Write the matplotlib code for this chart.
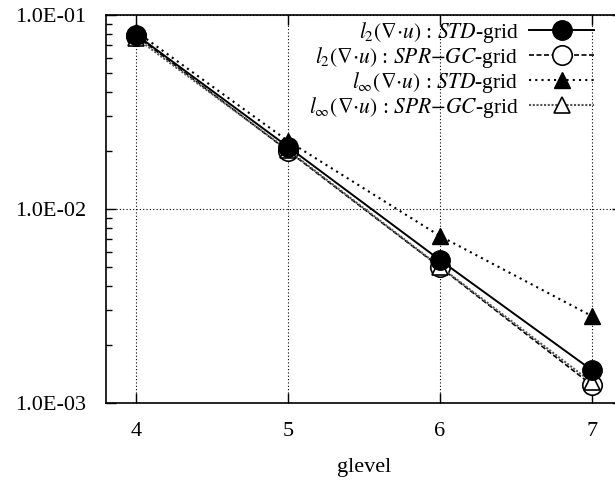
import matplotlib
matplotlib.use("Agg")
import matplotlib.pyplot as plt
from matplotlib.ticker import LogLocator, NullFormatter, FixedLocator

plt.rcParams['font.family'] = ['Liberation Serif', 'DejaVu Serif']
plt.rcParams['mathtext.fontset'] = 'stix'

glevel = [4, 5, 6, 7]
l2_std = [0.079, 0.0209, 0.00546, 0.00148]
l2_spr = [0.078, 0.0199, 0.00502, 0.00124]
linf_std = [0.082, 0.0224, 0.00726, 0.00281]
linf_spr = [0.076, 0.0201, 0.00505, 0.00128]

labels = [
    r'$l_2(\nabla{\cdot}u)$ : $\mathit{STD}$-grid',
    r'$l_2(\nabla{\cdot}u)$ : $\mathit{SPR}$$-$$\mathit{GC}$-grid',
    r'$l_\infty(\nabla{\cdot}u)$ : $\mathit{STD}$-grid',
    r'$l_\infty(\nabla{\cdot}u)$ : $\mathit{SPR}$$-$$\mathit{GC}$-grid',
]

fig = plt.figure(figsize=(6.15, 4.82), dpi=100)
# right edge of the axes runs past the figure, as in the original
ax = fig.add_axes([106 / 615, 79 / 482, 516 / 615, 388 / 482])

ax.plot(glevel, l2_std, color='black', lw=1.4, ls='-', marker='o',
        ms=14, mfc='black', label=labels[0], zorder=4)
ax.plot(glevel, l2_spr, color='black', lw=1.2, ls=(0, (3, 1.5)), marker='o',
        ms=14, mfc='white', mew=1.2, label=labels[1], zorder=3)
ax.plot(glevel, linf_std, color='black', lw=1.5, ls=(0, (1, 2)), marker='^',
        ms=12, mfc='black', label=labels[2], zorder=4)
ax.plot(glevel, linf_spr, color='#555555', lw=1.5, ls=(0, (1, 0.8)), marker='^',
        ms=12, mfc='white', mec='black', mew=1.2, label=labels[3], zorder=3)

ax.set_yscale('log')
ax.set_ylim(1e-3, 1e-1)
ax.set_xlim(3.8, 7.2)
ax.xaxis.set_major_locator(FixedLocator(glevel))
ax.yaxis.set_major_locator(FixedLocator([1e-3, 1e-2, 1e-1]))
ax.yaxis.set_minor_locator(LogLocator(base=10, subs=range(2, 10)))
ax.yaxis.set_minor_formatter(NullFormatter())
ax.set_yticklabels(['1.0E-03', '1.0E-02', '1.0E-01'])

ax.tick_params(which='both', direction='in', top=True, right=True,
               labelsize=16, width=1)
ax.tick_params(which='major', length=7)
ax.tick_params(which='minor', length=4)
ax.tick_params(axis='x', pad=14)
ax.tick_params(axis='y', pad=14)

ax.grid(True, which='major', color='black', ls=(0, (1, 2)), lw=0.8)
for s in ax.spines.values():
    s.set_linewidth(1.2)

ax.set_xlabel('glevel', fontsize=16, labelpad=12)

leg = ax.legend(loc='upper right', markerfirst=False, frameon=False,
                fontsize=15.5, handlelength=3.0, labelspacing=0.0,
                handletextpad=0.5, borderaxespad=0.0, borderpad=0.0)
leg.set_bbox_to_anchor((594 / 615, 1 - 20 / 482), transform=fig.transFigure)

fig.savefig('out.png', dpi=100)
